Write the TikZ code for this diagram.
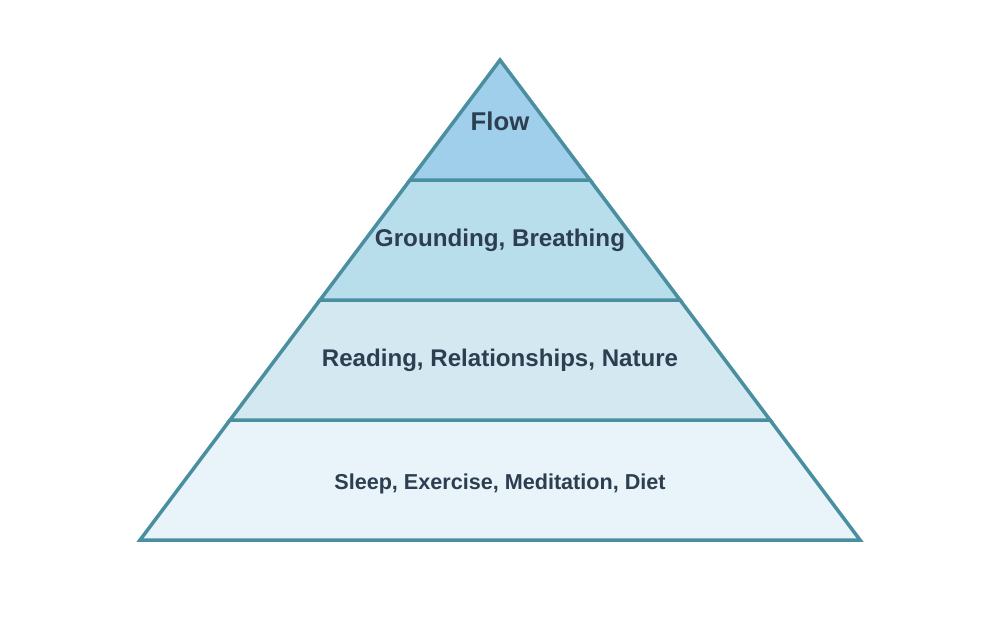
\documentclass[tikz,border=0pt]{standalone}
\usepackage{fontspec}
\setmainfont{Liberation Sans}
\usetikzlibrary{positioning}
\definecolor{edgeteal}{HTML}{4A8FA0}
\definecolor{textnavy}{HTML}{2C3E50}
\definecolor{tierone}{HTML}{9FCFEA}
\definecolor{tiertwo}{HTML}{B8DDEB}
\definecolor{tierthree}{HTML}{D4E8F1}
\definecolor{tierfour}{HTML}{E8F4F9}
\tikzset{
  tier/.style={draw=edgeteal, line width=3.5pt, line join=miter},
  tierlabel/.style={text=textnavy, font=\bfseries}
}
\begin{document}
\begin{tikzpicture}[x=1pt,y=-1pt]
    \useasboundingbox (0,0) rectangle (1000,640);
    % Corners of the pyramid
    \coordinate (apex) at (500,60);
    \coordinate (l1) at (410,180);
    \coordinate (r1) at (590,180);
    \coordinate (l2) at (320,300);
    \coordinate (r2) at (680,300);
    \coordinate (l3) at (230,420);
    \coordinate (r3) at (770,420);
    \coordinate (l4) at (140,540);
    \coordinate (r4) at (860,540);
    % Tiers, bottom up
    \filldraw[tier, fill=tierfour] (l3) -- (r3) -- (r4) -- (l4) -- cycle;
    \filldraw[tier, fill=tierthree] (l2) -- (r2) -- (r3) -- (l3) -- cycle;
    \filldraw[tier, fill=tiertwo] (l1) -- (r1) -- (r2) -- (l2) -- cycle;
    \filldraw[tier, fill=tierone] (apex) -- (r1) -- (l1) -- cycle;
    % Labels
    \node[tierlabel, font=\bfseries\fontsize{25.7}{30}\selectfont] (flow) at (500,121) {Flow};
    \node[tierlabel, font=\bfseries\fontsize{24.2}{28}\selectfont] (grounding) at (500,240) {Grounding, Breathing};
    \node[tierlabel, font=\bfseries\fontsize{24.1}{28}\selectfont] (reading) at (500,360.5) {Reading, Relationships, Nature};
    \node[tierlabel, font=\bfseries\fontsize{21.6}{26}\selectfont] (sleep) at (500,484) {Sleep, Exercise, Meditation, Diet};
  \end{tikzpicture}
\end{document}
